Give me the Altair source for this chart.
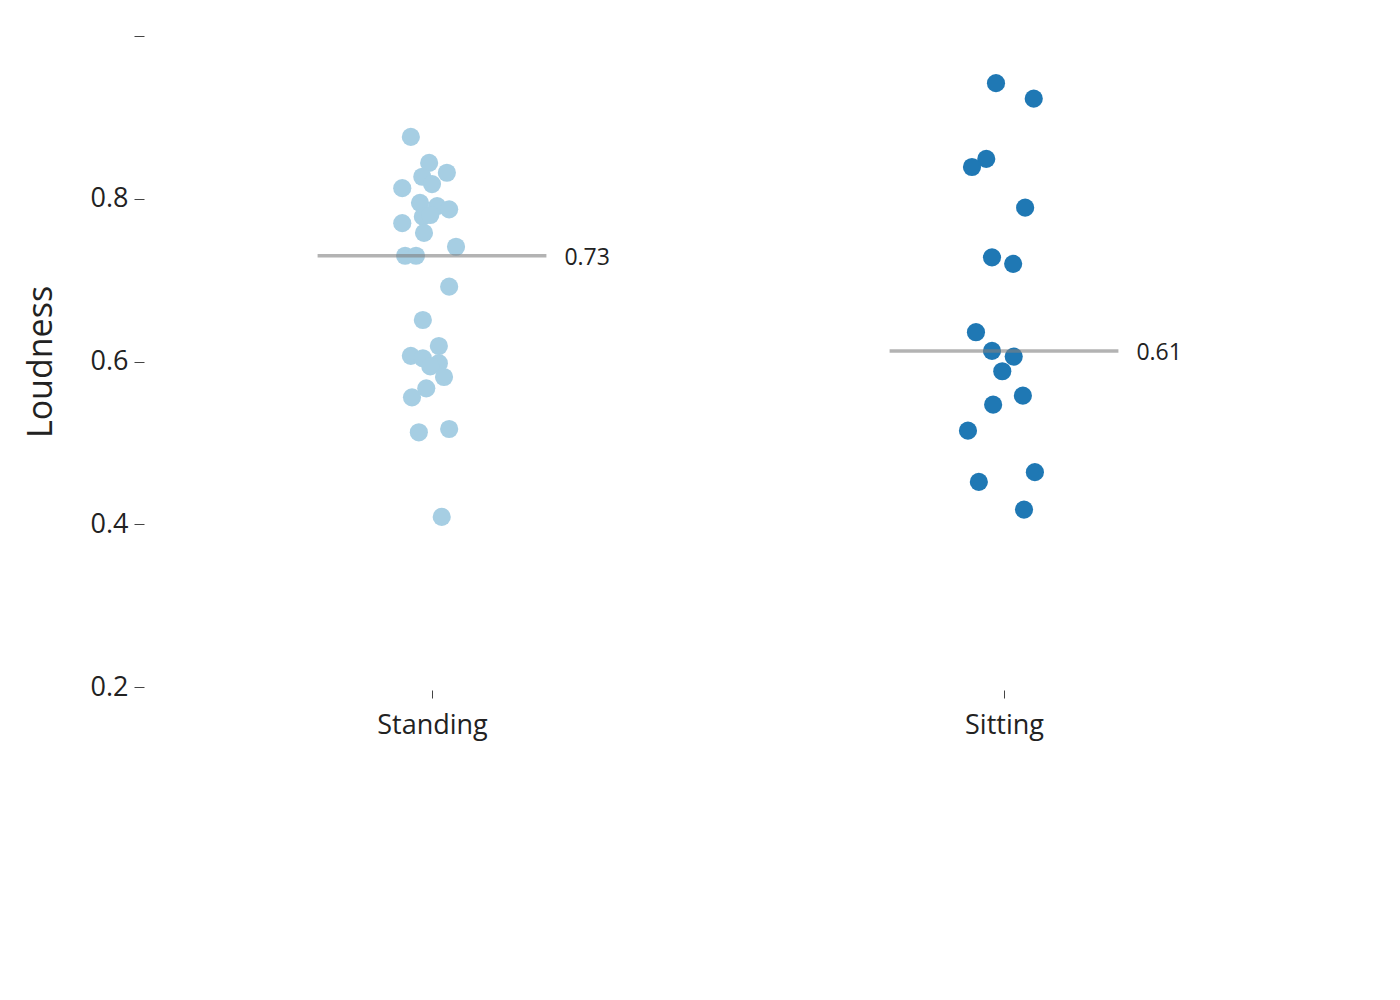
import altair as alt
import pandas as pd

groups = ["Standing", "Sitting"]

standing_loudness = [0.876, 0.844, 0.832, 0.827, 0.818, 0.813, 0.795, 0.791, 0.787, 0.778,
                     0.780, 0.770, 0.758, 0.741, 0.730, 0.730, 0.692, 0.651, 0.619, 0.607,
                     0.604, 0.598, 0.594, 0.581, 0.567, 0.556, 0.517, 0.513, 0.409]
standing_jitter = [-0.037, -0.005, 0.026, -0.017, 0.0, -0.052, -0.021, 0.009, 0.030, -0.016,
                   -0.003, -0.052, -0.014, 0.042, -0.047, -0.028, 0.030, -0.016, 0.012, -0.037,
                   -0.016, 0.012, -0.003, 0.021, -0.010, -0.035, 0.030, -0.023, 0.017]

sitting_loudness = [0.942, 0.923, 0.849, 0.839, 0.789, 0.728, 0.720, 0.636, 0.613, 0.606,
                    0.588, 0.558, 0.547, 0.515, 0.464, 0.452, 0.418]
sitting_jitter = [-0.014, 0.052, -0.031, -0.056, 0.037, -0.021, 0.016, -0.049, -0.021, 0.017,
                  -0.003, 0.033, -0.019, -0.063, 0.054, -0.044, 0.035]

colors = ["#a6cee3", "#1f78b4"]
y_ticks = [0.2, 0.4, 0.6, 0.8, 1.0]

rows = []
for v, j in zip(standing_loudness, standing_jitter):
    rows.append({"group": groups[0], "idx": 0, "jitter": j, "loudness": v})
for v, j in zip(sitting_loudness, sitting_jitter):
    rows.append({"group": groups[1], "idx": 1, "jitter": j, "loudness": v})
df = pd.DataFrame(rows)

FONT = "Open Sans"

xscale = alt.Scale(domain=[-0.5, 1.5], nice=False, zero=False)
yscale = alt.Scale(domain=[0.2, 1.0], nice=False, zero=False)

base = alt.Chart(df)

points = base.transform_calculate(
    xpos="datum.idx + datum.jitter"
).mark_circle(size=330, opacity=1).encode(
    x=alt.X("xpos:Q", scale=xscale,
            axis=alt.Axis(values=[0, 1], title=None, grid=False, domain=False,
                          labelExpr="datum.value == 0 ? 'Standing' : 'Sitting'",
                          tickSize=8, tickColor="#444", tickWidth=1, offset=3,
                          labelFontSize=27, labelFont=FONT, labelColor="#222",
                          labelPadding=14)),
    y=alt.Y("loudness:Q", scale=yscale,
            axis=alt.Axis(values=y_ticks, title="Loudness", grid=False, domain=False,
                          labelExpr="datum.value >= 1 ? '' : format(datum.value, '.1f')",
                          tickSize=10, tickColor="#444", tickWidth=1, offset=2,
                          labelFontSize=27, labelFont=FONT, labelColor="#222",
                          labelPadding=6, titleFontSize=34, titleFont=FONT,
                          titleFontWeight="normal", titleColor="#222", titlePadding=32)),
    color=alt.Color("group:N", scale=alt.Scale(domain=groups, range=colors), legend=None),
)

med = base.transform_aggregate(
    med="median(loudness)", groupby=["group", "idx"]
).transform_calculate(
    x1="datum.idx - 0.2", x2="datum.idx + 0.2",
    label="format(datum.med, '.2f')"
)

lines = med.mark_rule(color="#808080", opacity=0.6, strokeWidth=3.5).encode(
    x=alt.X("x1:Q", scale=xscale),
    x2="x2:Q",
    y=alt.Y("med:Q", scale=yscale),
)

labels = med.mark_text(align="left", baseline="middle", dx=18, dy=2, fontSize=23,
                       font=FONT, color="#222").encode(
    x=alt.X("x2:Q", scale=xscale),
    y=alt.Y("med:Q", scale=yscale),
    text="label:N",
)

chart = alt.layer(points, lines, labels).properties(
    width=1144, height=651,
    background="white",
    autosize=alt.AutoSizeParams(type="none"),
    padding={"left": 138, "top": 28, "right": 100, "bottom": 250},
).configure_view(stroke=None, strokeWidth=0)

chart.save("out.html", embed_options={"renderer": "svg", "actions": False})
